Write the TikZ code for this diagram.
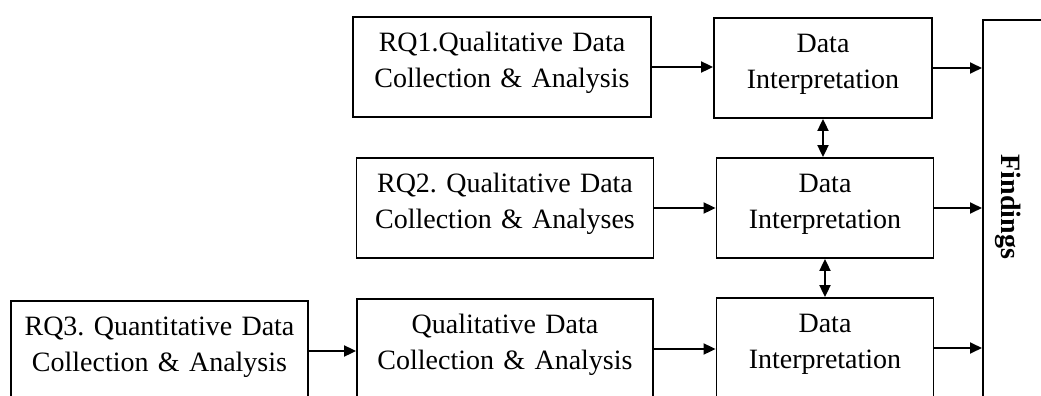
\documentclass[tikz,border=0pt]{standalone}
\usepackage{fontspec}
\setmainfont[WordSpace=0.8]{Liberation Serif}
\usetikzlibrary{arrows.meta}
\frenchspacing
\begin{document}
\begin{tikzpicture}[x=0.5pt, y=-0.5pt,
  box/.style={draw, line width=0.9pt, text width=#1, minimum height=50pt, inner xsep=0pt,
    font=\fontsize{14}{18}\selectfont, execute at begin node=\centering,
    execute at end node={\endgraf\vspace*{4pt}}},
  link/.style={line width=0.9pt, -{Triangle[length=6pt,width=5.5pt]}},
  both/.style={line width=0.9pt, {Triangle[length=6pt,width=5.5pt]}-{Triangle[length=6pt,width=5.5pt]}}]
\useasboundingbox (0,0) rectangle (1041,396);
\clip (0,0) rectangle (1041,396);
% research questions
\node[box=149pt] (rq1) at (502,67) {RQ1.Qualitative Data\\Collection \& Analysis};
\node[box=148.5pt] (rq2) at (505,208) {RQ2. Qualitative Data\\Collection \& Analyses};
\node[box=148.5pt] (rq3) at (159.5,351) {RQ3. Quantitative Data\\Collection \& Analysis};
\node[box=148pt] (qual) at (505,349) {Qualitative Data\\Collection \& Analysis};
% interpretation
\node[box=109pt] (di1) at (823,68) {Data\\Interpretation};
\node[box=108.5pt] (di2) at (825,208) {Data\\Interpretation};
\node[box=108.5pt] (di3) at (825,348) {Data\\Interpretation};
% findings
\node[draw, line width=0.9pt, minimum width=50pt, minimum height=230pt, anchor=north west] (fnd) at (982,19) {};
\node[rotate=-90, font=\bfseries\fontsize{14}{18}\selectfont] (fndtxt) at (1008,207) {Findings};
% arrows
\draw[link] (rq1.east) -- (rq1.east -| di1.west);
\draw[link] (rq2.east) -- (rq2.east -| di2.west);
\draw[link] (rq3.east) -- (rq3.east -| qual.west);
\draw[link] (qual.east) -- (qual.east -| di3.west);
\draw[link] (di1.east) -- (di1.east -| fnd.west);
\draw[link] (di2.east) -- (di2.east -| fnd.west);
\draw[link] (di3.east) -- (di3.east -| fnd.west);
\draw[both] (di1.south) -- (di1.south |- di2.north);
\draw[both] (di2.south) -- (di2.south |- di3.north);
\end{tikzpicture}
\end{document}
